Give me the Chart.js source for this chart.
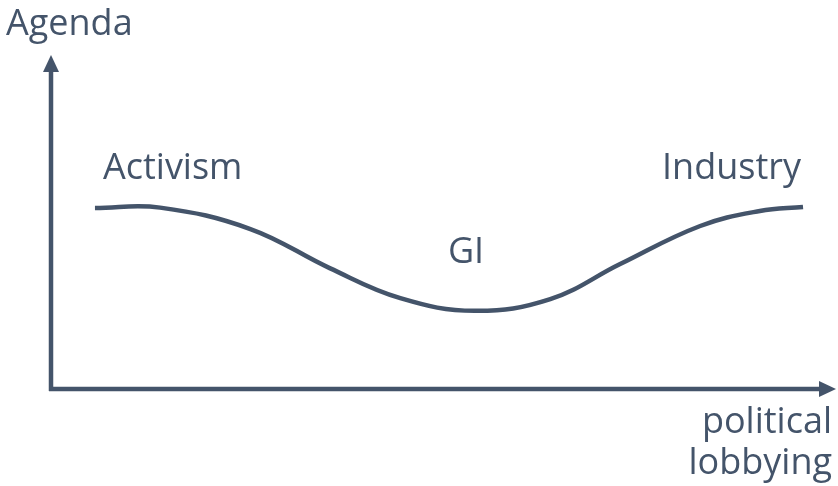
<!DOCTYPE html>
<html>
<head>
<meta charset="utf-8">
<script src="https://cdn.jsdelivr.net/npm/chart.js@4.4.1/dist/chart.umd.min.js"></script>
<style>
    html, body { margin: 0; padding: 0; background: #ffffff; }
    #wrap { width: 838px; height: 486px; }
</style>
</head>
<body>
<div id="wrap"><canvas id="agenda-chart"></canvas></div>
<script>
    "use strict";

    // Curve (lobbying 0-100, agenda 0-100)
    var lobbying = [5.6, 13.9, 25.4, 35.5, 44.5, 54.0, 63.6, 72.5, 82.7, 90.3, 95.8];
    var agenda = [54.2, 54.3, 47.9, 36.2, 27.2, 23.4, 26.9, 37.4, 48.8, 53.3, 54.5];

    // Labels
    var axisTitles = ["Agenda", "political", "lobbying"];
    var groupLabels = ["Activism", "GI", "Industry"];

    var ink = "#44546a";
    var font = "36px 'Open Sans', 'Noto Sans', sans-serif";

    // Axes with arrow heads and text labels
    var decor = {
        id: "decor",
        afterDraw: function (chart) {
            var c = chart.ctx;
            var a = chart.chartArea;
            var xs = chart.scales.x;
            c.save();
            c.strokeStyle = ink;
            c.fillStyle = ink;
            c.lineWidth = 4.5;
            c.lineCap = "butt";

            // y axis
            c.beginPath();
            c.moveTo(a.left, a.bottom + 2);
            c.lineTo(a.left, a.top + 14);
            c.stroke();
            c.beginPath();
            c.moveTo(a.left, a.top);
            c.lineTo(a.left - 8, a.top + 17);
            c.lineTo(a.left + 8, a.top + 17);
            c.closePath();
            c.fill();

            // x axis
            c.beginPath();
            c.moveTo(a.left - 2, a.bottom);
            c.lineTo(a.right - 14, a.bottom);
            c.stroke();
            c.beginPath();
            c.moveTo(a.right, a.bottom);
            c.lineTo(a.right - 17, a.bottom - 8);
            c.lineTo(a.right - 17, a.bottom + 8);
            c.closePath();
            c.fill();

            // texts
            c.font = font;
            c.textBaseline = "alphabetic";
            c.textAlign = "left";
            c.fillText(axisTitles[0], 6, 35);
            c.textAlign = "right";
            c.fillText(axisTitles[1], 832, 433);
            c.fillText(axisTitles[2], 832, 474);

            c.textAlign = "left";
            c.fillText(groupLabels[0], xs.getPixelForValue(lobbying[0]) + 8, 179);
            c.textAlign = "center";
            c.fillText(groupLabels[1], 466, 263);
            c.textAlign = "right";
            c.fillText(groupLabels[2], xs.getPixelForValue(lobbying[lobbying.length - 1]) - 2, 179);
            c.restore();
        }
    };

    var points = lobbying.map(function (v, i) {
        return { x: v, y: agenda[i] };
    });

    var ctx = document.getElementById("agenda-chart").getContext("2d");
    var myChart = new Chart(ctx, {
        type: "line",
        data: {
            datasets: [{
                data: points,
                borderColor: ink,
                borderWidth: 4.5,
                pointRadius: 0,
                tension: 0.4,
                fill: false
            }]
        },
        options: {
            responsive: true,
            maintainAspectRatio: false,
            animation: false,
            layout: { padding: { left: 51, right: 2, top: 55, bottom: 97 } },
            plugins: { legend: { display: false }, tooltip: { enabled: false } },
            scales: {
                x: { type: "linear", min: 0, max: 100, display: false },
                y: { type: "linear", min: 0, max: 100, display: false }
            }
        },
        plugins: [decor]
    });
</script>
</body>
</html>
